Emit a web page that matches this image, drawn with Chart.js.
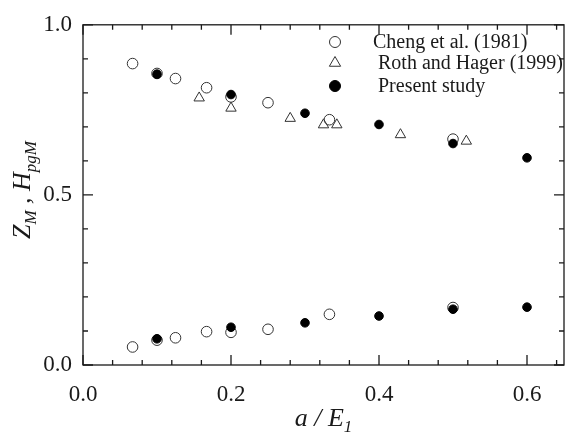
<!DOCTYPE html>
<html lang="en">
<head>
<meta charset="UTF-8">
<title>Z_M, H_pgM against a / E1</title>
<script src="https://cdn.jsdelivr.net/npm/chart.js"></script>
<style>
  html, body { margin: 0; padding: 0; background: #fff; }
  #wrap { width: 571px; height: 435px; position: relative; }
</style>
</head>
<body>
<div id="wrap"><canvas id="chart"></canvas></div>
<script>
// tick labels
const xTicks = [0.0, 0.2, 0.4, 0.6];
const yTicks = [0.0, 0.5, 1.0];

// Cheng et al. (1981) - open circles
const chengX     = [0.067, 0.100, 0.125, 0.167, 0.200, 0.250, 0.333, 0.500];
const chengUpper = [0.886, 0.857, 0.842, 0.815, 0.788, 0.771, 0.721, 0.664];
const chengLower = [0.053, 0.073, 0.080, 0.098, 0.096, 0.105, 0.149, 0.169];

// Roth and Hager (1999) - open triangles
const rothX = [0.157, 0.200, 0.280, 0.325, 0.343, 0.429, 0.518];
const rothY = [0.785, 0.755, 0.725, 0.706, 0.706, 0.677, 0.658];

// Present study - filled circles
const presentX     = [0.1, 0.2, 0.3, 0.4, 0.5, 0.6];
const presentUpper = [0.855, 0.795, 0.740, 0.707, 0.651, 0.609];
const presentLower = [0.077, 0.111, 0.124, 0.144, 0.164, 0.170];

const legendLabels = ['Cheng et al. (1981)', ' Roth and Hager (1999)', ' Present study'];

const pts = (xs, ys) => xs.map((x, i) => ({ x: x, y: ys[i] }));
const serif = '"Liberation Serif", "Times New Roman", serif';
const ink = '#1a1a1a';

const frame = {
    id: 'frame',
    afterDraw(chart) {
        const ctx = chart.ctx;
        const a = chart.chartArea;
        const xs = chart.scales.x, ys = chart.scales.y;
        ctx.save();
        ctx.strokeStyle = ink;
        ctx.lineWidth = 1.3;
        ctx.strokeRect(a.left, a.top, a.right - a.left, a.bottom - a.top);

        // inward ticks, all four sides
        ctx.beginPath();
        for (let i = 0; i <= 16; i++) {
            const v = i * 0.04;
            const px = xs.getPixelForValue(v);
            const len = (i % 5 === 0) ? 10 : 5;
            ctx.moveTo(px, a.bottom); ctx.lineTo(px, a.bottom - len);
            ctx.moveTo(px, a.top); ctx.lineTo(px, a.top + len);
        }
        for (let i = 0; i <= 10; i++) {
            const py = ys.getPixelForValue(i * 0.1);
            const len = (i % 5 === 0) ? 10 : 5;
            ctx.moveTo(a.left, py); ctx.lineTo(a.left + len, py);
            ctx.moveTo(a.right, py); ctx.lineTo(a.right - len, py);
        }
        ctx.stroke();

        // axis titles with subscripts
        ctx.fillStyle = ink;
        ctx.textBaseline = 'alphabetic';
        const big = 'italic 26px ' + serif;
        const small = 'italic 17px ' + serif;
        const drawParts = (parts, cx, base) => {
            let w = 0;
            parts.forEach(p => { ctx.font = p[1] ? small : big; w += ctx.measureText(p[0]).width; });
            let x = cx - w / 2;
            parts.forEach(p => {
                ctx.font = p[1] ? small : big;
                ctx.fillText(p[0], x, base + (p[1] ? 6 : 0));
                x += ctx.measureText(p[0]).width;
            });
        };
        drawParts([['a / E', false], ['1', true]], (a.left + a.right) / 2, 426);
        ctx.save();
        ctx.translate(30, 190);
        ctx.rotate(-Math.PI / 2);
        drawParts([['Z', false], ['M', true], [' , H', false], ['pgM', true]], 0, 0);
        ctx.restore();

        // legend
        const rows = [42, 63, 86];
        ctx.font = '20px ' + serif;
        ctx.textBaseline = 'middle';
        chart.data.datasets.slice(0, 3).forEach((ds, i) => {
            ctx.strokeStyle = ds.borderColor;
            ctx.fillStyle = ds.backgroundColor;
            ctx.lineWidth = 1;
            Chart.helpers.drawPoint(ctx, {
                pointStyle: ds.pointStyle,
                radius: ds.pointStyle === 'triangle' ? 6.5 : 5.5,
                rotation: 0,
                borderWidth: 1
            }, 335, rows[i]);
            ctx.fillStyle = ink;
            ctx.fillText(legendLabels[i], 373, rows[i] + 1);
        });
        ctx.restore();
    }
};

const openCircle = { pointStyle: 'circle', pointRadius: 5.3, borderColor: '#333', backgroundColor: 'rgba(255,255,255,0)', borderWidth: 1 };
const triangle = { pointStyle: 'triangle', pointRadius: 6, borderColor: '#333', backgroundColor: 'rgba(255,255,255,0)', borderWidth: 1 };
const filled = { pointStyle: 'circle', pointRadius: 4.3, borderColor: '#000', backgroundColor: '#000', borderWidth: 1 };

new Chart(document.getElementById('chart'), {
    type: 'scatter',
    data: {
        datasets: [
            Object.assign({ label: legendLabels[0], data: pts(chengX, chengUpper), order: 3 }, openCircle),
            Object.assign({ label: legendLabels[1], data: pts(rothX, rothY), order: 2 }, triangle),
            Object.assign({ label: legendLabels[2], data: pts(presentX, presentUpper), order: 1 }, filled),
            Object.assign({ label: 'cheng lower', data: pts(chengX, chengLower), order: 3 }, openCircle),
            Object.assign({ label: 'present lower', data: pts(presentX, presentLower), order: 0 }, filled)
        ]
    },
    options: {
        responsive: true,
        maintainAspectRatio: false,
        animation: false,
        layout: { padding: { top: 19, right: 1, left: 0, bottom: 0 } },
        plugins: { legend: { display: false }, tooltip: { enabled: false } },
        scales: {
            x: {
                type: 'linear',
                min: 0, max: 0.65,
                afterBuildTicks: s => { s.ticks = xTicks.map(v => ({ value: v })); },
                afterFit: s => { s.height = 70; },
                grid: { display: false, drawTicks: false },
                border: { display: false },
                ticks: {
                    padding: 16, color: ink, maxRotation: 0,
                    font: { family: serif, size: 23 },
                    callback: v => v.toFixed(1)
                }
            },
            y: {
                type: 'linear',
                min: 0, max: 1,
                afterBuildTicks: s => { s.ticks = yTicks.map(v => ({ value: v })); },
                afterFit: s => { s.width = 83; },
                grid: { display: false, drawTicks: false },
                border: { display: false },
                ticks: {
                    padding: 11, color: ink,
                    font: { family: serif, size: 23 },
                    callback: v => v.toFixed(1)
                }
            }
        }
    },
    plugins: [frame]
});
</script>
</body>
</html>
